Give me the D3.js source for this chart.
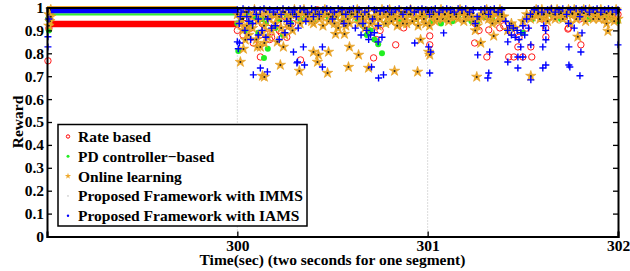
<!DOCTYPE html>
<html>
<head>
<meta charset="utf-8">
<script src="https://cdn.jsdelivr.net/npm/d3@7"></script>
<style>
  body { margin: 0; background: #fff; }
</style>
</head>
<body>
<svg id="chart"></svg>
<script>
// tick labels
const xTicks = [300, 301, 302];
const yTicks = [0, 0.1, 0.2, 0.3, 0.4, 0.5, 0.6, 0.7, 0.8, 0.9, 1];

const seriesNames = ["Rate based", "PD controller\u2212based", "Online learning",
  "Proposed Framework with IMMS", "Proposed Framework with IAMS"];

// steady level of each series during the first second (299-300 s)
const steadyRate = [[299.02, 0.928], [300.0, 0.928]];
const steadyPD = [[299.02, 0.970], [300.0, 0.970]];
const steadyOnline = [[299.0, 1.0], [300.0, 1.0]];
const steadyIMMS = [[299.0, 1.0], [300.0, 1.0]];
const steadyIAMS = [[299.02, 0.988], [300.0, 0.988]];

// scattered samples, [time, reward]
const rateBased = [[299.005,.767],[299.01,.91],
  [300.00,.90],[300.02,.96],[300.03,.88],[300.04,.93],[300.06,.97],[300.07,.91],[300.08,.94],[300.10,.98],[300.12,.88],[300.13,.93],[300.14,.95],[300.16,.91],[300.17,.86],[300.18,.87],[300.19,.97],[300.21,.93],[300.22,.90],[300.23,.89],[300.25,.96],[300.26,.87],[300.27,.92],[300.29,.93],[300.30,.97],[300.34,.98],[300.38,.96],[300.42,.99],[300.46,.97],[300.50,.98],[300.54,.96],[300.58,.98],[300.62,.97],[300.66,.94],[300.69,.89],[300.71,.92],[300.73,.86],[300.75,.90],[300.78,.97],[300.82,.98],[300.86,.96],[300.90,.98],[300.94,.97],[300.98,.96],[301.02,.98],[301.06,.97],[301.10,.98],[301.14,.96],[301.18,.98],[301.22,.97],[301.25,.93],[301.27,.90],[301.30,.96],[301.34,.98],[301.38,.95],[301.40,.92],[301.44,.89],[301.48,.87],[301.52,.91],[301.56,.97],[301.60,.95],[301.62,.91],[301.64,.96],[301.68,.98],[301.72,.96],[301.74,.91],[301.76,.97],[301.80,.95],[301.84,.98],[301.88,.97],[301.92,.98],[301.96,.96],[302.00,.97],
  [300.121,.784],[300.332,.771],[300.084,.845],[300.716,.780],[300.832,.837],[300.874,.911],[301.011,.837],[301.011,.876],[301.247,.845],[301.311,.784],[301.321,.902],[301.379,.911],[301.426,.784],[301.453,.784],[301.474,.828],[301.5,.784],[301.542,.828],[301.547,.784],[301.621,.872],[301.737,.906],[301.805,.837]];

const pdBased = [[299.01,.90],[299.005,.95],
  [300.00,.93],[300.005,.81],[300.02,.95],[300.04,.90],[300.05,.97],[300.07,.93],[300.09,.96],[300.11,.89],[300.13,.95],[300.14,.78],[300.15,.93],[300.16,.82],[300.18,.97],[300.20,.91],[300.22,.95],[300.24,.88],[300.26,.96],[300.28,.93],[300.30,.97],[300.33,.95],[300.36,.96],[300.40,.94],[300.44,.97],[300.48,.95],[300.52,.96],[300.56,.94],[300.60,.97],[300.63,.95],[300.66,.92],[300.68,.88],[300.70,.90],[300.72,.86],[300.74,.84],[300.76,.80],[300.78,.93],[300.82,.96],[300.86,.94],[300.90,.97],[300.94,.95],[300.98,.96],[301.02,.94],[301.04,.95],[301.07,.93],[301.10,.95],[301.13,.94],[301.16,.96],[301.20,.95],[301.23,.94],[301.26,.93],[301.30,.96],[301.34,.95],[301.38,.97],[301.45,.91],[301.50,.89],[301.55,.95],[301.60,.96],[301.65,.97],[301.70,.95],[301.75,.97],[301.80,.96],[301.85,.95],[301.90,.97],[301.93,.96],[301.97,.95],[302.00,.94]];

const onlineLearning = [[299.01,.97],[299.015,.94],[299.02,.96],[299.01,.92],[299.02,.99],
  [300.00,.97],[300.01,.93],[300.02,.95],[300.03,.90],[300.04,.98],[300.05,.92],[300.06,.88],[300.07,.96],[300.08,.91],[300.09,.99],[300.10,.86],[300.11,.94],[300.12,.97],[300.13,.89],[300.14,.92],[300.15,.98],[300.16,.87],[300.17,.95],[300.18,.90],[300.19,.97],[300.20,.93],[300.21,.85],[300.22,.96],[300.23,.91],[300.24,.98],[300.25,.88],[300.26,.95],[300.27,.92],[300.28,.97],[300.29,.90],[300.30,.99],[300.32,.96],[300.34,.98],[300.36,.95],[300.38,.97],[300.40,.93],[300.42,.98],[300.44,.96],[300.46,.99],[300.48,.94],[300.50,.97],[300.51,.93],[300.52,.96],[300.53,.91],[300.54,.98],[300.55,.94],[300.56,.97],[300.57,.92],[300.58,.95],[300.60,.98],[300.62,.96],[300.64,.93],[300.65,.97],[300.67,.91],[300.69,.96],[300.71,.94],[300.73,.98],[300.75,.95],[300.77,.97],[300.78,.93],[300.79,.96],[300.80,.99],[300.81,.94],[300.82,.97],[300.84,.92],[300.85,.96],[300.86,.98],[300.88,.95],[300.89,.93],[300.90,.97],[300.92,.94],[300.93,.98],[300.95,.92],[300.96,.96],[300.98,.95],[300.99,.93],[301.00,.98],[301.01,.92],[301.02,.96],[301.04,.94],[301.06,.97],[301.08,.95],[301.10,.98],[301.12,.96],[301.14,.97],[301.16,.95],[301.18,.98],[301.20,.96],[301.22,.97],[301.24,.94],[301.26,.92],[301.28,.96],[301.30,.98],[301.32,.95],[301.34,.93],[301.36,.97],[301.38,.99],[301.40,.96],[301.42,.90],[301.44,.93],[301.46,.91],[301.50,.94],[301.52,.97],[301.54,.95],[301.56,.98],[301.58,.97],[301.60,.99],[301.62,.96],[301.64,.98],[301.66,.97],[301.68,.99],[301.70,.98],[301.72,.96],[301.74,.99],[301.76,.97],[301.78,.95],[301.80,.98],[301.82,.99],[301.84,.97],[301.86,.98],[301.88,.96],[301.90,.95],[301.92,.97],[301.94,.93],[301.96,.96],[301.98,.94],[302.00,.95],
  [300.31,.97],[300.33,.93],[300.35,.99],[300.37,.96],[300.39,.94],[300.41,.97],[300.43,.95],[300.45,.92],[300.47,.97],[300.49,.96],[300.59,.93],[300.61,.97],[300.63,.99],[300.66,.95],[300.68,.98],[300.70,.93],[300.72,.96],[300.74,.92],[300.76,.99],[300.83,.95],[300.87,.93],[300.91,.99],[300.94,.95],[300.97,.98],[301.03,.98],[301.05,.95],[301.07,.99],[301.09,.97],[301.11,.94],[301.13,.98],[301.15,.96],[301.17,.99],[301.19,.94],[301.21,.98],[301.23,.96],[301.25,.90],[301.27,.95],[301.29,.97],[301.31,.99],[301.33,.96],[301.35,.98],[301.37,.94],[301.39,.96],[301.55,.96],[301.57,.99],[301.59,.95],[301.61,.97],[301.63,.94],[301.65,.99],[301.67,.95],[301.69,.97],[301.71,.95],[301.73,.98],[301.75,.93],[301.77,.99],[301.79,.97],[301.81,.96],[301.83,.94],[301.85,.99],[301.87,.95],[301.89,.98],[301.91,.99],[301.93,.95],[301.95,.98],[301.97,.97],[301.99,.99],
  [300.016,.762],[300.226,.749],[300.132,.701],[300.142,.697],[300.326,.723],[300.421,.762],[300.474,.714],[300.400,.806],[300.426,.793],[300.479,.806],[300.584,.740],[300.589,.828],[300.689,.736],[300.826,.723],[300.947,.719],[300.516,.884],[300.563,.884],[300.963,.859],[301.005,.806],[300.637,.793],[300.242,.828],[300.032,.819],[300.042,.859],[300.105,.828],[300.121,.828],[300.142,.845],[301.011,.793],[301.258,.697],[301.542,.701],[301.947,.897],[301.789,.872],[301.347,.876],[301.279,.845]];

const imms = [[300.00,.97],[300.03,.95],[300.05,.98],[300.08,.93],[300.10,.97],[300.13,.90],[300.15,.96],[300.18,.92],[300.20,.97],[300.23,.94],[300.25,.98],[300.28,.95],[300.30,.97],[300.33,.98],[300.36,.97],[300.39,.98],[300.42,.97],[300.45,.98],[300.48,.97],[300.50,.96],[300.52,.98],[300.55,.97],[300.58,.98],[300.60,.97],[300.63,.98],[300.66,.96],[300.69,.97],[300.72,.98],[300.75,.97],[300.78,.98],[300.80,.97],[300.83,.98],[300.86,.97],[300.88,.98],[300.91,.97],[300.94,.98],[300.97,.97],[301.00,.98],[301.03,.97],[301.06,.975],[301.09,.97],[301.12,.975],[301.15,.97],[301.18,.975],[301.21,.97],[301.24,.975],[301.27,.96],[301.30,.975],[301.33,.97],[301.36,.98],[301.39,.97],[301.55,.97],[301.58,.975],[301.61,.97],[301.64,.975],[301.67,.97],[301.70,.975],[301.73,.97],[301.76,.975],[301.79,.97],[301.82,.975],[301.85,.97],[301.88,.975],[301.91,.97],[301.94,.975],[301.97,.97],[302.00,.975]];

const iams = [[299.005,.872],[299.005,.828],[299.01,.95],[300.0,.85],[300.011,.845],[300.005,.82],
  [300.00,.99],[300.02,.98],[300.03,.995],[300.05,.96],[300.06,.99],[300.08,.93],[300.09,.99],[300.10,.97],[300.12,.99],[300.13,.90],[300.14,.995],[300.16,.95],[300.17,.99],[300.19,.98],[300.20,.92],[300.21,.99],[300.23,.97],[300.24,.995],[300.26,.94],[300.27,.99],[300.29,.98],[300.30,.99],[300.31,.96],[300.33,.995],[300.35,.99],[300.37,.98],[300.39,.995],[300.41,.99],[300.43,.97],[300.45,.99],[300.47,.995],[300.49,.99],[300.51,.98],[300.53,.995],[300.55,.99],[300.57,.97],[300.59,.99],[300.61,.995],[300.63,.96],[300.64,.99],[300.66,.93],[300.67,.98],[300.68,.90],[300.69,.995],[300.70,.88],[300.71,.95],[300.72,.99],[300.74,.92],[300.75,.985],[300.77,.99],[300.79,.995],[300.81,.98],[300.83,.99],[300.85,.995],[300.87,.97],[300.89,.99],[300.91,.995],[300.93,.98],[300.95,.99],[300.97,.995],[300.99,.99],[301.01,.97],[301.02,.99],[301.04,.995],[301.06,.98],[301.08,.99],[301.10,.995],[301.12,.99],[301.14,.98],[301.16,.995],[301.18,.99],[301.20,.995],[301.22,.98],[301.24,.99],[301.25,.93],[301.26,.96],[301.28,.99],[301.30,.995],[301.32,.97],[301.33,.99],[301.35,.995],[301.37,.98],[301.39,.99],[301.41,.94],[301.42,.90],[301.43,.92],[301.44,.88],[301.45,.91],[301.46,.87],[301.47,.90],[301.48,.86],[301.49,.89],[301.50,.92],[301.51,.88],[301.52,.95],[301.53,.91],[301.54,.97],[301.56,.99],[301.58,.995],[301.60,.98],[301.61,.92],[301.62,.90],[301.63,.99],[301.65,.995],[301.67,.98],[301.69,.99],[301.71,.995],[301.73,.97],[301.74,.93],[301.75,.99],[301.77,.91],[301.78,.995],[301.80,.96],[301.81,.99],[301.83,.995],[301.85,.98],[301.87,.99],[301.89,.995],[301.91,.98],[301.93,.99],[301.95,.995],[301.97,.99],[301.99,.98],[302.00,.99],
  [300.01,.93],[300.015,.96],[300.04,.90],[300.06,.94],[300.07,.86],[300.11,.88],[300.11,.95],[300.15,.87],[300.18,.91],[300.22,.86],[300.25,.89],[300.28,.93],[300.32,.91],[300.36,.94],[300.40,.96],[300.50,.95],[300.56,.93],[300.62,.91],[300.65,.88],[300.69,.86],[300.72,.89],[300.74,.85],[300.76,.87],
  [300.084,.706],[300.121,.736],[300.158,.719],[300.295,.806],[300.316,.762],[300.313,.758],[300.353,.749],[300.447,.740],[300.447,.828],[300.347,.828],[300.705,.740],[300.742,.692],[300.768,.706],[301.011,.714],[300.932,.845],[301.005,.828],[301.016,.806],[301.084,.889],[301.263,.793],[301.321,.714],[301.316,.692],[301.326,.806],[301.421,.762],[301.474,.736],[301.542,.684],[301.621,.749],[301.605,.736],[301.605,.828],[301.742,.749],[301.747,.740],[301.805,.806],[301.800,.702],[301.742,.828],[302.0,.837],[301.811,.889],[301.421,.850],[301.474,.784],[301.5,.784],[301.489,.828],[301.542,.837],[301.621,.859]];

const width = 630, height = 271;
const margin = {left: 47, right: 12, top: 7.5, bottom: 34.5};
const FONT = '"Liberation Serif", serif';
const FS = 15.5;

const svg = d3.select("#chart").attr("width", width).attr("height", height);

const x = d3.scaleLinear().domain([299, 302]).range([margin.left, width - margin.right]);
const y = d3.scaleLinear().domain([0, 1]).range([height - margin.bottom, margin.top]);

const plot = svg.append("g");

// dotted vertical grid at the x ticks
plot.selectAll(".grid")
  .data(xTicks.slice(0, 2))
  .enter().append("line")
  .attr("x1", d => x(d)).attr("x2", d => x(d))
  .attr("y1", y(0)).attr("y2", y(1))
  .attr("stroke", "#b8b8b8").attr("stroke-width", 1)
  .attr("stroke-dasharray", "1,2");

const line = d3.line().x(d => x(d[0])).y(d => y(d[1]));
const star = d3.symbol().type(d3.symbolStar).size(34);

function drawCircles(data, r, fill, stroke) {
  plot.append("g").selectAll("circle")
    .data(data).enter().append("circle")
    .attr("cx", d => x(d[0])).attr("cy", d => y(d[1]))
    .attr("r", r).attr("fill", fill).attr("stroke", stroke).attr("stroke-width", 1);
}

// rate based
plot.append("path").datum(steadyRate).attr("d", line)
  .attr("stroke", "#ff0000").attr("stroke-width", 6.5).attr("fill", "none");
drawCircles(rateBased, 3.2, "none", "#ff1a1a");

// PD controller
plot.append("path").datum(steadyPD).attr("d", line)
  .attr("stroke", "#33ee33").attr("stroke-width", 2.2).attr("fill", "none");
drawCircles(pdBased, 3, "#22ee22", "none");

// online learning
plot.append("path").datum(steadyOnline).attr("d", line)
  .attr("stroke", "#eea62a").attr("stroke-width", 3).attr("fill", "none");
const stars = plot.append("g").selectAll("g")
  .data(onlineLearning).enter().append("g")
  .attr("transform", d => `translate(${x(d[0])},${y(d[1])})`);
stars.append("path").attr("d", star).attr("fill", "#efaa2e").attr("stroke", "#e39a1a").attr("stroke-width", 0.6);
stars.append("circle").attr("r", 1).attr("fill", "#222");

// IMMS
plot.append("path").datum(steadyIMMS).attr("d", line)
  .attr("stroke", "#333").attr("stroke-width", 1).attr("fill", "none");
drawCircles(imms, 1.1, "#111", "none");

// IAMS
plot.append("path").datum(steadyIAMS).attr("d", line)
  .attr("stroke", "#0000ff").attr("stroke-width", 6).attr("fill", "none");
plot.append("g").selectAll("path")
  .data(iams).enter().append("path")
  .attr("d", d => {
    const cx = x(d[0]), cy = y(d[1]);
    return `M${cx - 3.5},${cy}H${cx + 3.5}M${cx},${cy - 3.5}V${cy + 3.5}`;
  })
  .attr("stroke", "#0000ff").attr("stroke-width", 1.4);

// axes box
const yLeft = svg.append("g").attr("transform", `translate(${margin.left},0)`)
  .call(d3.axisLeft(y).tickValues(yTicks).tickSize(-5).tickPadding(3).tickFormat(d3.format("~g")));
const yRight = svg.append("g").attr("transform", `translate(${width - margin.right},0)`)
  .call(d3.axisRight(y).tickValues(yTicks).tickSize(-5).tickFormat(""));
const xBottom = svg.append("g").attr("transform", `translate(0,${height - margin.bottom})`)
  .call(d3.axisBottom(x).tickValues(xTicks).tickSize(-5).tickPadding(3).tickFormat(d3.format("d")));
const xTop = svg.append("g").attr("transform", `translate(0,${margin.top})`)
  .call(d3.axisTop(x).tickValues(xTicks).tickSize(-5).tickFormat(""));

[yLeft, yRight, xBottom, xTop].forEach(g => {
  g.selectAll("path.domain").attr("stroke", "#000").attr("stroke-width", 2);
  g.selectAll(".tick line").attr("stroke", "#000").attr("stroke-width", 1.3);
  g.selectAll("text").attr("fill", "#000")
    .style("font-family", FONT).style("font-size", FS + "px").style("font-weight", "bold");
});

// axis titles
svg.append("text")
  .attr("x", (x(299) + x(302)) / 2).attr("y", 265)
  .attr("text-anchor", "middle")
  .text("Time(sec) (two seconds for one segment)");
svg.append("text")
  .attr("transform", `translate(23,${y(0.5)}) rotate(-90)`)
  .attr("text-anchor", "middle")
  .text("Reward");

// legend
const legend = svg.append("g").attr("transform", "translate(58,124.5)");
legend.append("rect").attr("width", 249).attr("height", 101.5)
  .attr("fill", "#fff").attr("stroke", "#000").attr("stroke-width", 1.5);
const rows = legend.selectAll(".row").data(seriesNames).enter().append("g")
  .attr("transform", (d, i) => `translate(0,${12 + i * 19.8})`);
rows.append("text").attr("x", 20).attr("y", 5.5).text(d => d);

rows.filter((d, i) => i === 0).append("circle").attr("cx", 10).attr("r", 1.7)
  .attr("fill", "none").attr("stroke", "#ff0000").attr("stroke-width", 1);
rows.filter((d, i) => i === 1).append("circle").attr("cx", 10).attr("r", 1.5).attr("fill", "#22ee22");
rows.filter((d, i) => i === 2).append("path").attr("transform", "translate(10,0)")
  .attr("d", d3.symbol().type(d3.symbolStar).size(12)).attr("fill", "#efaa2e");
rows.filter((d, i) => i === 3).append("circle").attr("cx", 10).attr("r", 0.6).attr("fill", "#999");
rows.filter((d, i) => i === 4).append("circle").attr("cx", 10).attr("r", 1.2).attr("fill", "#0000ff");

svg.selectAll("text").filter(function () { return !this.closest(".tick"); })
  .style("font-family", FONT).style("font-size", FS + "px").style("font-weight", "bold").attr("fill", "#000");
</script>
</body>
</html>
